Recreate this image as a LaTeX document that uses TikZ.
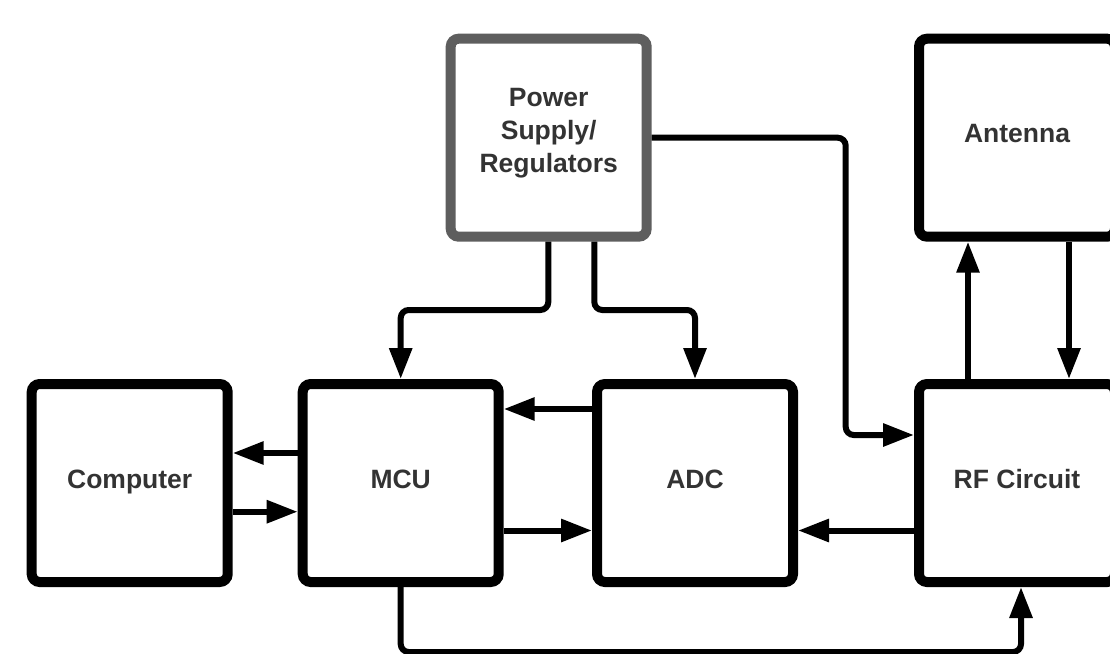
\documentclass[tikz,border=0pt]{standalone}
\usepackage{fontspec}
\setmainfont{Liberation Sans}
\usetikzlibrary{arrows.meta}
\definecolor{txt}{HTML}{333333}
\definecolor{psgray}{HTML}{5E5E5E}
\tikzset{
  block/.style={draw=black, line width=10pt, rounded corners=8pt,
    minimum width=196pt, minimum height=198pt, outer sep=5pt, fill=white,
    text=txt, font=\fontsize{26.5}{33}\selectfont\bfseries, align=center, inner sep=0pt},
  oneline/.style={text height=17pt, text depth=7pt},
  link/.style={draw=black, line width=6pt, rounded corners=8pt,
    -{Triangle[length=31pt,width=22pt]}},
}
\begin{document}
\begin{tikzpicture}[x=1pt,y=-1pt]
\useasboundingbox (0,0) rectangle (1110,653);
\clip (0,0) rectangle (1110,653);

% blocks
\node[block, oneline]     (comp) at (129.7,483)  {Computer};
\node[block, oneline]     (mcu)  at (400.7,483)  {MCU};
\node[block, oneline]     (adc)  at (695,483)    {ADC};
\node[block, oneline]     (rf)   at (1017,483)   {RF Circuit};
\node[block, draw=psgray, text depth=14pt] (ps) at (548.7,137.7) {Power\\Supply/\\Regulators};
\node[block, oneline]     (ant)  at (1017,137.7) {Antenna};

% routing levels
\coordinate (r1)  at (0,453);
\coordinate (r2)  at (0,511.7);
\coordinate (r3)  at (0,409);
\coordinate (r4)  at (0,530.5);
\coordinate (rsp) at (0,310);
\coordinate (rrf) at (0,435);
\coordinate (rbt) at (0,652);
\coordinate (xl)  at (548.3,0);
\coordinate (xr)  at (594.3,0);
\coordinate (xv)  at (845.7,0);
\coordinate (xa)  at (968,0);
\coordinate (xb)  at (1069,0);
\coordinate (xf)  at (1021,0);

% MCU <-> Computer
\draw[link] (mcu.west |- r1) -- (comp.east |- r1);
\draw[link] (comp.east |- r2) -- (mcu.west |- r2);
% MCU <-> ADC
\draw[link] (adc.west |- r3) -- (mcu.east |- r3);
\draw[link] (mcu.east |- r4) -- (adc.west |- r4);
% RF -> ADC
\draw[link] (rf.west |- r4) -- (adc.east |- r4);

% power distribution
\draw[link] (xl |- ps.south) -- (xl |- rsp) -- (mcu.north |- rsp) -- (mcu.north);
\draw[link] (xr |- ps.south) -- (xr |- rsp) -- (adc.north |- rsp) -- (adc.north);
\draw[link] (ps.east) -- (xv |- ps.east) -- (xv |- rrf) -- (rf.west |- rrf);

% RF <-> antenna
\draw[link] (xa |- rf.north) -- (xa |- ant.south);
\draw[link] (xb |- ant.south) -- (xb |- rf.north);

% MCU -> RF along the bottom
\draw[link] (mcu.south) -- (mcu.south |- rbt) -- (xf |- rbt) -- (xf |- rf.south);
\end{tikzpicture}
\end{document}
